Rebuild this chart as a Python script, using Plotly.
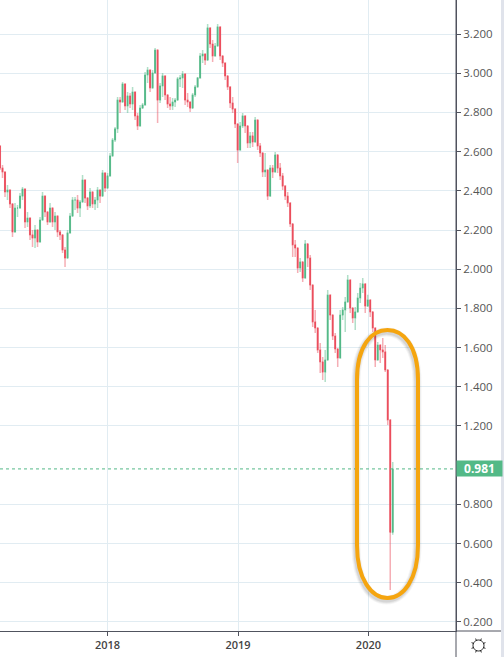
#!/usr/bin/env python3
# -*- coding: utf-8 -*-

import math
import pandas as pd
import plotly.graph_objects as go

# weekly bars
first_bar = "2017-03-06"

highs = [2.629,2.532,2.496,2.430,2.394,2.287,2.338,2.328,2.389,2.419,
	2.353,2.292,2.215,2.200,2.226,2.164,2.266,2.394,2.353,2.287,
	2.338,2.287,2.292,2.215,2.200,2.164,2.113,2.200,2.287,2.368,
	2.368,2.379,2.353,2.481,2.414,2.368,2.414,2.389,2.368,2.419,
	2.404,2.506,2.481,2.491,2.593,2.669,2.725,2.879,2.879,2.955,
	2.914,2.904,2.899,2.930,2.863,2.797,2.838,2.848,3.006,3.032,
	2.991,3.016,3.129,3.078,2.950,3.001,2.950,2.879,2.879,2.874,
	2.874,2.981,2.991,3.011,2.914,2.899,2.848,2.899,2.940,2.981,
	3.103,3.118,3.093,3.251,3.210,3.169,3.154,3.251,3.169,3.083,
	3.052,2.981,2.925,2.879,2.822,2.710,2.751,2.797,2.771,2.710,
	2.700,2.700,2.776,2.695,2.644,2.542,2.593,2.455,2.532,2.532,
	2.598,2.583,2.542,2.491,2.430,2.394,2.317,2.175,2.149,2.062,
	2.057,2.032,2.149,2.098,2.072,1.904,1.792,1.675,1.624,1.552,
	1.588,1.894,1.843,1.741,1.675,1.573,1.792,1.807,1.858,1.970,
	1.879,1.782,1.807,1.879,1.930,1.955,1.894,1.869,1.828,1.756,
	1.680,1.629,1.588,1.649,1.613,1.486,1.231,1.016]

lows = [2.506,2.465,2.368,2.353,2.312,2.164,2.236,2.266,2.317,2.353,
	2.210,2.215,2.149,2.113,2.108,2.113,2.185,2.287,2.266,2.226,
	2.241,2.215,2.200,2.164,2.149,2.083,2.011,2.098,2.215,2.287,
	2.302,2.287,2.266,2.368,2.338,2.302,2.312,2.312,2.302,2.312,
	2.338,2.440,2.394,2.440,2.521,2.608,2.649,2.695,2.797,2.863,
	2.812,2.797,2.822,2.812,2.761,2.710,2.771,2.822,2.879,2.950,
	2.904,2.965,3.052,2.746,2.848,2.879,2.863,2.822,2.812,2.812,
	2.828,2.914,2.930,2.925,2.838,2.828,2.802,2.848,2.879,2.950,
	3.027,3.052,3.042,3.154,3.129,3.057,3.103,3.169,3.067,3.032,
	2.965,2.914,2.822,2.797,2.720,2.542,2.659,2.720,2.695,2.618,
	2.618,2.623,2.695,2.608,2.572,2.470,2.470,2.353,2.465,2.465,
	2.542,2.491,2.455,2.404,2.353,2.317,2.215,2.062,2.062,1.981,
	1.986,1.935,2.062,2.011,1.894,1.705,1.675,1.573,1.470,1.435,
	1.424,1.624,1.741,1.639,1.573,1.501,1.690,1.741,1.680,1.858,
	1.777,1.725,1.690,1.792,1.828,1.879,1.777,1.807,1.756,1.680,
	1.501,1.552,1.521,1.547,1.475,1.205,0.363,0.645]

closes = [2.516,2.496,2.394,2.404,2.333,2.190,2.312,2.312,2.373,2.409,
	2.241,2.261,2.175,2.159,2.200,2.139,2.251,2.373,2.292,2.241,
	2.312,2.241,2.271,2.190,2.175,2.098,2.057,2.185,2.271,2.353,
	2.353,2.312,2.343,2.455,2.363,2.323,2.394,2.333,2.353,2.404,
	2.373,2.491,2.414,2.476,2.578,2.659,2.716,2.863,2.853,2.945,
	2.833,2.884,2.843,2.904,2.782,2.731,2.822,2.838,2.991,3.016,
	2.925,3.001,3.118,2.863,2.935,2.986,2.889,2.843,2.833,2.853,
	2.863,2.971,2.976,2.996,2.863,2.853,2.822,2.889,2.930,2.976,
	3.088,3.098,3.067,3.231,3.149,3.088,3.139,3.236,3.088,3.052,
	2.986,2.930,2.848,2.817,2.741,2.608,2.731,2.782,2.731,2.644,
	2.680,2.649,2.761,2.629,2.593,2.496,2.506,2.373,2.516,2.496,
	2.583,2.516,2.476,2.424,2.373,2.338,2.231,2.124,2.108,2.006,
	2.037,1.955,2.129,2.057,1.919,1.731,1.700,1.588,1.527,1.475,
	1.537,1.868,1.766,1.659,1.593,1.547,1.766,1.792,1.833,1.945,
	1.802,1.751,1.782,1.853,1.904,1.925,1.812,1.843,1.782,1.700,
	1.537,1.613,1.588,1.578,1.486,1.231,0.658,0.981]

opens = [2.629] + closes[:-1]
dates = pd.date_range(first_bar, periods=len(closes), freq="7D")

price_ticks = [0.2,0.4,0.6,0.8,1.2,1.4,1.6,1.8,2.0,2.2,2.4,2.6,2.8,3.0,3.2]
year_ticks = ["2018-01-01", "2019-01-01", "2020-01-01"]
year_labels = ["2018", "2019", "2020"]
last_price = 0.981

UP = "#53b987"
DOWN = "#eb4d5c"
AXIS = "#50535e"
GRID = "#e1ecf2"
PLOT_W = 456.0
PLOT_H = 631.0

def px(x):
	return x / PLOT_W

def py(y):
	return 1 - y / PLOT_H

def pill(dx=0, dy=0):
	# the hand drawn rounded outline, given in screen pixels
	pts = [("M",[(357,380)]),
		("C",[(357,345),(372,330),(387.5,330)]),
		("C",[(403,330),(418,345),(418,380)]),
		("L",[(418,545)]),
		("C",[(418,580),(403,598),(387.5,598)]),
		("C",[(372,598),(357,580),(357,545)])]
	out = ""
	for cmd, coords in pts:
		out += cmd + " ".join("%.5f,%.5f" % (px(a+dx), py(b+dy)) for a, b in coords) + " "
	return out + "Z"

def gear(cx, cy):
	# settings icon: ring with eight short teeth
	ring = "M%.5f,%.5f " % (px(cx+5.5), py(cy))
	for i in range(1, 25):
		a = i * math.pi / 12
		ring += "L%.5f,%.5f " % (px(cx+5.5*math.cos(a)), py(cy+5.5*math.sin(a)))
	teeth = ""
	for i in range(8):
		a = i * math.pi / 4 + math.pi / 8
		teeth += "M%.5f,%.5f L%.5f,%.5f " % (px(cx+5.5*math.cos(a)), py(cy+5.5*math.sin(a)),
			px(cx+7.5*math.cos(a)), py(cy+7.5*math.sin(a)))
	return ring + "Z " + teeth

fig = go.Figure()
# pale wicks underneath, solid bodies on top
fig.add_trace(go.Candlestick(x=dates, open=opens, high=highs, low=lows, close=closes,
	increasing=dict(line=dict(color=UP, width=1.5), fillcolor=UP),
	decreasing=dict(line=dict(color=DOWN, width=1.5), fillcolor=DOWN),
	opacity=0.45, whiskerwidth=0, hoverinfo="skip"))
fig.add_trace(go.Candlestick(x=dates, open=opens, close=closes,
	high=[max(o, c) for o, c in zip(opens, closes)],
	low=[min(o, c) for o, c in zip(opens, closes)],
	increasing=dict(line=dict(color=UP, width=1), fillcolor=UP),
	decreasing=dict(line=dict(color=DOWN, width=1), fillcolor=DOWN),
	whiskerwidth=0))

fig.add_hline(y=last_price, line=dict(color=UP, width=1, dash="dot"))

for width, alpha in [(9, 0.05), (7, 0.07), (5, 0.10)]:
	fig.add_shape(type="path", path=pill(-1, 2), xref="paper", yref="paper",
		line=dict(color="rgba(60,60,60,%.2f)" % alpha, width=width))
fig.add_shape(type="path", path=pill(), xref="paper", yref="paper",
	line=dict(color="#f5a50f", width=4))

# price scale frame and the strip at the right edge
fig.add_shape(type="line", xref="paper", yref="paper", x0=1, x1=1, y0=py(657), y1=1,
	line=dict(color=AXIS, width=1))
fig.add_shape(type="line", xref="paper", yref="paper", x0=1, x1=px(501), y0=0, y1=0,
	line=dict(color=AXIS, width=1))
fig.add_shape(type="rect", xref="paper", yref="paper", x0=px(501), x1=px(504), y0=py(657), y1=1,
	fillcolor="#e0e3eb", line=dict(width=0))
fig.add_shape(type="path", path=gear(478.5, 645.5), xref="paper", yref="paper",
	line=dict(color="#222222", width=1))

fig.add_annotation(xref="paper", yref="y", x=1, y=last_price, xanchor="left", yanchor="middle",
	text="<b>0.981</b>", showarrow=False, width=45, height=15, bgcolor=UP, borderpad=0,
	font=dict(family="Open Sans", size=12, color="white"), align="center")

fig.update_xaxes(range=["2017-03-06", "2020-09-02"], rangeslider_visible=False,
	tickvals=year_ticks, ticktext=year_labels, showgrid=True, gridcolor=GRID, gridwidth=1,
	showline=True, linecolor=AXIS, linewidth=1, ticks="outside", ticklen=4, tickcolor=AXIS,
	tickfont=dict(family="Open Sans", size=11, color="#444444", weight=600), zeroline=False)
fig.update_yaxes(range=[0.154, 3.3735], side="right", tickvals=price_ticks, tickformat=".3f",
	showgrid=True, gridcolor=GRID, gridwidth=1, ticks="outside", ticklen=4, tickcolor=AXIS,
	showline=True, linecolor=AXIS, linewidth=1,
	tickfont=dict(family="Open Sans", size=11.5, color="#555555"), zeroline=False)
fig.update_layout(width=504, height=657, autosize=False, showlegend=False,
	boxgap=0.65, boxmode="overlay",
	margin=dict(l=0, r=48, t=0, b=26, pad=0),
	paper_bgcolor="white", plot_bgcolor="white")

fig.write_html("out.html", config=dict(displayModeBar=False),
	post_script="document.body.style.margin='0';")
